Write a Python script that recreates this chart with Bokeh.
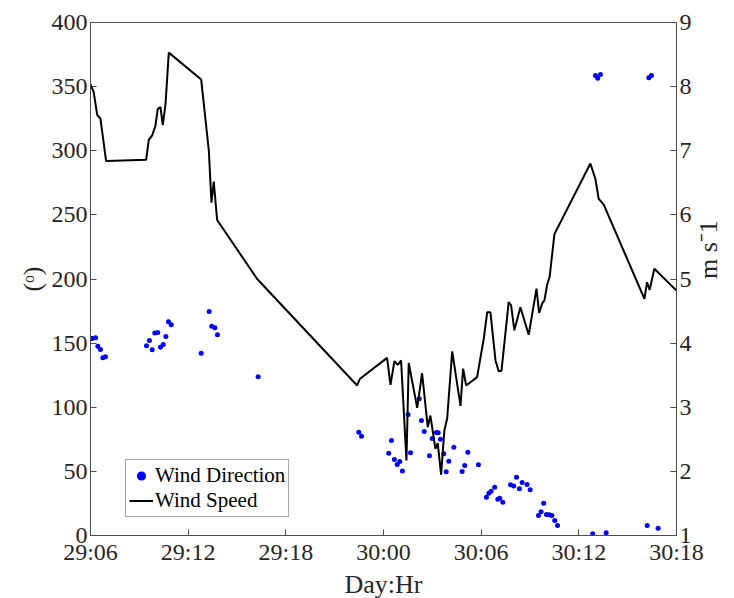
import math
from bokeh.plotting import figure
from bokeh.models import (Range1d, LinearAxis, FixedTicker, Legend, LegendItem)
from bokeh.embed import file_html
from bokeh.resources import INLINE

# Time in hours since start of day 29
dir_hr = [6.0, 6.10, 6.31, 6.45, 6.61, 6.76, 6.92, 9.44, 9.62, 9.79, 9.95, 10.13, 10.30,
          10.47, 10.63, 10.79, 10.96, 12.80, 13.29, 13.45, 13.64, 13.80, 16.30, 22.48,
          22.65, 24.32, 24.49, 24.67, 24.84, 25.00, 25.16, 25.51, 25.66, 26.19, 26.33,
          26.50, 26.82, 26.99, 27.25, 27.36, 27.50, 27.70, 27.85, 28.01, 28.32, 28.83,
          28.99, 29.18, 29.83, 30.32, 30.47, 30.61, 30.83, 31.02, 31.14, 31.33, 31.80,
          32.00, 32.17, 32.35, 32.52, 32.82, 33.01, 33.52, 33.68, 33.84, 34.01, 34.18,
          34.34, 34.52, 34.69, 36.85, 37.02, 37.16, 37.33, 37.68, 40.20, 40.30, 40.46, 40.87]
wind_dir = [153.6, 153.6, 154.2, 147.6, 145.0, 138.5, 139.3, 147.9, 152.0, 144.8, 157.8,
            158.3, 146.8, 148.9, 155.2, 166.6, 164.3, 142.2, 174.7, 163.2, 161.9, 156.5,
            123.7, 80.5, 77.4, 64.2, 74.1, 59.3, 55.4, 57.7, 50.2, 94.3, 64.5, 106.6,
            89.7, 81.1, 62.1, 75.6, 80.3, 80.1, 75.1, 63.7, 49.7, 57.9, 68.9, 49.9, 54.6,
            65.0, 55.1, 29.9, 33.0, 34.5, 37.7, 28.3, 29.1, 26.0, 39.5, 38.5, 45.5, 36.4,
            41.3, 39.8, 35.6, 15.6, 18.5, 25.2, 16.4, 16.1, 15.6, 11.7, 7.8, 1.3, 358.7,
            356.6, 359.5, 2.1, 7.8, 356.9, 358.7, 5.7]

speed_hr = [6.0, 6.20, 6.41, 6.61, 6.96, 9.42, 9.58, 9.79, 9.99, 10.13, 10.30, 10.44, 10.61,
            10.81, 12.80, 13.27, 13.43, 13.57, 13.78, 16.24, 22.38, 22.54, 24.22, 24.43,
            24.67, 24.88, 25.08, 25.41, 25.55, 26.07, 26.37, 26.72, 26.88, 27.19, 27.33,
            27.54, 27.74, 27.91, 28.22, 28.73, 28.89, 29.08, 29.75, 30.16, 30.37, 30.57,
            30.88, 31.08, 31.25, 31.69, 31.84, 32.04, 32.41, 32.92, 33.40, 33.56, 33.75,
            33.89, 34.05, 34.21, 34.50, 36.71, 37.02, 37.22, 37.53, 40.03, 40.19, 40.35,
            40.64, 42.0]
wind_speed = [8.04, 7.91, 7.56, 7.50, 6.84, 6.86, 7.17, 7.24, 7.39, 7.65, 7.68, 7.40, 7.73,
              8.53, 8.11, 7.00, 6.19, 6.52, 5.92, 5.00, 3.34, 3.44, 3.77, 3.35, 3.72, 3.66,
              3.73, 2.17, 3.69, 2.99, 3.53, 2.69, 2.87, 2.35, 2.44, 1.95, 2.64, 2.82, 3.87,
              3.02, 3.60, 3.34, 3.47, 4.07, 4.48, 4.48, 3.73, 3.56, 3.57, 4.64, 4.59, 4.20,
              4.56, 4.13, 4.85, 4.47, 4.62, 4.67, 4.91, 5.04, 5.70, 6.80, 6.56, 6.25, 6.16,
              4.69, 4.95, 4.83, 5.16, 4.82]

x_ticks = [6, 12, 18, 24, 30, 36, 42]
x_tick_labels = ["29:06", "29:12", "29:18", "30:00", "30:06", "30:12", "30:18"]
left_ticks = [0, 50, 100, 150, 200, 250, 300, 350, 400]
right_ticks = [1, 2, 3, 4, 5, 6, 7, 8, 9]

FONT = "Liberation Serif"
AX = "#4d4d4d"
TXT = "#262626"

p = figure(frame_width=586, frame_height=513, output_backend="svg", toolbar_location=None,
           x_range=Range1d(6, 42), y_range=Range1d(0, 400),
           min_border_left=90, min_border_right=56, min_border_top=22, min_border_bottom=60,
           background_fill_color="white", border_fill_color="white")
p.grid.visible = False
p.outline_line_color = AX
p.outline_line_width = 1

p.extra_y_ranges = {"speed": Range1d(1, 9)}
raxis = LinearAxis(y_range_name="speed", ticker=FixedTicker(ticks=right_ticks),
                   axis_label="m s\u207b1")
raxis.axis_label_orientation = math.pi / 2
p.add_layout(raxis, "right")

p.xaxis.ticker = FixedTicker(ticks=x_ticks)
p.xaxis.major_label_overrides = {t: l for t, l in zip(x_ticks, x_tick_labels)}
p.xaxis.axis_label = "Day:Hr"
p.yaxis[0].ticker = FixedTicker(ticks=left_ticks)
p.yaxis[0].axis_label = "(\u1d52)"

for ax in p.axis:
    ax.axis_line_color = AX
    ax.major_tick_line_color = AX
    ax.major_tick_in = 6
    ax.major_tick_out = 0
    ax.minor_tick_line_color = None
    ax.major_label_text_font = FONT
    ax.major_label_text_font_size = "24px"
    ax.major_label_text_color = TXT
    ax.axis_label_text_font = FONT
    ax.axis_label_text_font_size = "26px"
    ax.axis_label_text_font_style = "normal"
    ax.axis_label_text_color = TXT
    ax.major_label_standoff = 3
    ax.axis_label_standoff = 2
raxis.axis_label_standoff = 14

r_dir = p.scatter(dir_hr, wind_dir, size=5, color="#0000ff", line_color=None)
r_spd = p.line(speed_hr, wind_speed, y_range_name="speed", line_color="black", line_width=2)

legend = Legend(items=[LegendItem(label="Wind Direction", renderers=[r_dir]),
                       LegendItem(label="Wind Speed", renderers=[r_spd])],
                location=(35, 18))
legend.label_text_font = FONT
legend.label_text_font_size = "21px"
legend.label_text_color = "black"
legend.border_line_color = AX
legend.border_line_width = 1
legend.background_fill_color = "white"
legend.background_fill_alpha = 1
legend.padding = 3
legend.spacing = 0
legend.margin = 0
legend.glyph_width = 24
legend.glyph_height = 23
legend.label_height = 23
legend.label_standoff = 2
p.add_layout(legend, "center")

open("out.html", "w").write(file_html(p, INLINE))
